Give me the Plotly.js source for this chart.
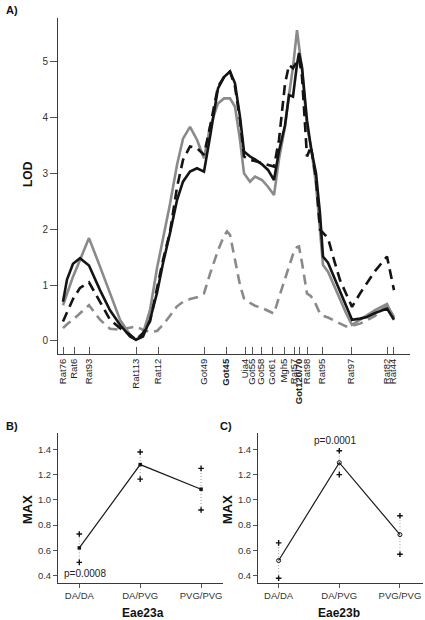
<!DOCTYPE html>
<html>
<head>
<meta charset="utf-8">
<script src="https://cdn.plot.ly/plotly-3.0.1.min.js"></script>
<style>
  html, body { margin: 0; padding: 0; background: #fff; }
  #chart { width: 425px; height: 620px; }
</style>
</head>
<body>
<div id="chart"></div>
<script>
// ---------- Panel A data: LOD profiles along the chromosome ----------
const markerNames = ["Rat76","Rat6","Rat93","Rat113","Rat12","Got49","<b>Got45</b>","Uia4","Got55","Got58","Got61","Mgh5","Rat57","<b>Got120/70</b>","Rat98","Rat95","Rat97","Rat82","Rat44"];
const markerPos   = [5, 16, 31, 78, 100, 146, 168, 187, 194, 203, 214, 226, 236, 241, 249, 264, 293, 329, 335];

const lodPos = [5, 9, 15, 22, 31, 42, 52, 62, 72, 78, 85, 92, 99, 105, 112, 119, 125, 132, 139, 146, 152, 160, 166, 169, 172, 177, 182, 186, 192, 197, 204, 210, 216, 221, 227, 231, 235, 239, 241, 244, 249, 253, 258, 262, 265, 270, 276, 282, 288, 294, 302, 309, 317, 329, 336];

const lodSolidBlack = [0.70, 1.10, 1.38, 1.48, 1.35, 0.91, 0.55, 0.29, 0.08, 0.02, 0.08, 0.38, 0.86, 1.39, 1.93, 2.52, 2.85, 3.03, 3.09, 3.03, 3.65, 4.52, 4.72, 4.78, 4.82, 4.61, 4.01, 3.39, 3.30, 3.25, 3.16, 3.06, 2.88, 3.40, 3.86, 4.40, 4.37, 4.95, 5.15, 4.90, 3.95, 3.45, 3.00, 2.28, 1.51, 1.40, 1.15, 0.91, 0.65, 0.38, 0.40, 0.43, 0.50, 0.58, 0.38];
const lodSolidGray  = [0.64, 0.85, 1.15, 1.45, 1.84, 1.33, 0.86, 0.38, 0.11, 0.02, 0.14, 0.55, 1.30, 1.81, 2.45, 3.15, 3.62, 3.83, 3.60, 3.27, 3.83, 4.25, 4.34, 4.34, 4.34, 4.19, 3.60, 3.00, 2.85, 2.94, 2.88, 2.76, 2.61, 3.25, 3.83, 4.40, 4.90, 5.56, 5.30, 4.85, 3.83, 3.48, 2.80, 1.93, 1.36, 1.24, 1.00, 0.73, 0.50, 0.29, 0.38, 0.47, 0.55, 0.66, 0.41];
const lodDashBlack  = [0.35, 0.50, 0.75, 0.95, 1.05, 0.70, 0.38, 0.23, 0.11, 0.02, 0.14, 0.35, 0.95, 1.45, 1.95, 2.75, 3.24, 3.48, 3.45, 3.33, 3.83, 4.55, 4.72, 4.78, 4.82, 4.55, 3.95, 3.30, 3.24, 3.22, 3.18, 3.15, 3.12, 3.60, 4.60, 4.94, 4.88, 5.00, 5.06, 4.73, 3.30, 3.48, 2.90, 1.99, 1.93, 1.84, 1.45, 1.09, 0.85, 0.61, 0.85, 1.03, 1.25, 1.51, 0.91];
const lodDashGray   = [0.23, 0.30, 0.38, 0.50, 0.64, 0.38, 0.22, 0.20, 0.23, 0.26, 0.20, 0.16, 0.18, 0.29, 0.45, 0.62, 0.70, 0.75, 0.78, 0.85, 1.20, 1.62, 1.88, 1.96, 1.90, 1.45, 1.00, 0.76, 0.68, 0.63, 0.59, 0.54, 0.49, 0.78, 1.10, 1.35, 1.55, 1.68, 1.69, 1.40, 0.85, 0.80, 0.65, 0.49, 0.45, 0.42, 0.37, 0.32, 0.26, 0.27, 0.31, 0.37, 0.45, 0.64, 0.43];

const lodTicks = [0, 1, 2, 3, 4, 5];

// ---------- Panels B and C: genotype means ----------
const genotypes = ["DA/DA", "DA/PVG", "PVG/PVG"];
const eae23aMean  = [0.62, 1.28, 1.085];
const eae23aUpper = [0.73, 1.38, 1.25];
const eae23aLower = [0.505, 1.165, 0.92];
const eae23bMean  = [0.52, 1.295, 0.725];
const eae23bUpper = [0.66, 1.39, 0.875];
const eae23bLower = [0.38, 1.20, 0.57];
const maxTicks = [0.4, 0.6, 0.8, 1.0, 1.2, 1.4];

// ---------- build ----------
const FONT = "Liberation Sans, Arial, sans-serif";
const BLACK = "#141414", GRAY = "#8a8a8a";
const traces = [];

function lod(y, color, dash) {
  traces.push({
    x: lodPos, y: y, xaxis: "x", yaxis: "y", type: "scatter", mode: "lines",
    line: { color: color, width: 2.6, dash: dash, shape: "linear" },
    hoverinfo: "skip", showlegend: false
  });
}
lod(lodDashGray, GRAY, "10px,6px");
lod(lodSolidGray, GRAY, "solid");
lod(lodDashBlack, BLACK, "10px,6px");
lod(lodSolidBlack, BLACK, "solid");

function genoPanel(mean, up, lo, xa, ya, meanSymbol) {
  genotypes.forEach((g, i) => {
    traces.push({
      x: [g, g], y: [lo[i], up[i]], xaxis: xa, yaxis: ya, type: "scatter",
      mode: "lines", line: { color: "#9a9a9a", width: 1, dash: "1px,2px" },
      hoverinfo: "skip", showlegend: false
    });
    traces.push({
      x: [g, g], y: [lo[i], up[i]], xaxis: xa, yaxis: ya, type: "scatter",
      mode: "markers",
      marker: { symbol: "cross-thin", size: 4, color: "#111", line: { color: "#111", width: 1.4 } },
      hoverinfo: "skip", showlegend: false
    });
  });
  traces.push({
    x: genotypes, y: mean, xaxis: xa, yaxis: ya, type: "scatter", mode: "lines+markers",
    line: { color: "#1a1a1a", width: 1.2 },
    marker: meanSymbol === "open"
      ? { symbol: "circle-open", size: 4, color: "#111", line: { width: 1, color: "#111" } }
      : { symbol: "square", size: 3.5, color: "#111" },
    hoverinfo: "skip", showlegend: false
  });
}
genoPanel(eae23aMean, eae23aUpper, eae23aLower, "x2", "y2", "filled");
genoPanel(eae23bMean, eae23bUpper, eae23bLower, "x3", "y3", "open");

const W = 425, H = 620;
const px = v => v / W, py = v => 1 - v / H;

const axLine = { showline: true, linecolor: "#3a3a3a", linewidth: 1, showgrid: false, zeroline: false, mirror: false };
const tickFont = { family: FONT, size: 9.5, color: "#333" };

function note(text, x, y, size, extra) {
  return Object.assign({
    text: text, x: px(x), y: py(y), xref: "paper", yref: "paper",
    xanchor: "center", yanchor: "middle", showarrow: false,
    font: { family: FONT, size: size, color: "#111" }
  }, extra || {});
}

const layout = {
  width: W, height: H,
  margin: { l: 0, r: 0, t: 0, b: 0 },
  paper_bgcolor: "#fff", plot_bgcolor: "rgba(0,0,0,0)",
  font: { family: FONT, color: "#222" },
  showlegend: false,
  xaxis: Object.assign({}, axLine, {
    domain: [px(58), px(410)], range: [0, 352], anchor: "y",
    tickmode: "array", tickvals: markerPos, ticktext: markerNames,
    ticks: "inside", ticklen: 7, tickcolor: "#555", tickwidth: 1,
    tickangle: -90, tickfont: { family: FONT, size: 9.5, color: "#222" }
  }),
  yaxis: Object.assign({}, axLine, {
    domain: [py(354), py(18)], range: [-0.233, 5.778], anchor: "x",
    tickmode: "array", tickvals: lodTicks,
    ticks: "outside", ticklen: 7, tickcolor: "#555", tickwidth: 1,
    tickfont: { family: FONT, size: 10, color: "#333" }
  }),
  xaxis2: Object.assign({}, axLine, {
    domain: [px(58), px(223)], range: [-0.35, 2.36], anchor: "y2",
    type: "category", categoryarray: genotypes,
    ticks: "outside", ticklen: 4, tickcolor: "#555", tickfont: tickFont
  }),
  yaxis2: Object.assign({}, axLine, {
    domain: [py(583), py(433)], range: [0.342, 1.53], anchor: "x2",
    tickmode: "array", tickvals: maxTicks, tickformat: ".1f",
    ticks: "outside", ticklen: 4, tickcolor: "#555", tickfont: tickFont
  }),
  xaxis3: Object.assign({}, axLine, {
    domain: [px(258), px(423)], range: [-0.34, 2.38], anchor: "y3",
    type: "category", categoryarray: genotypes,
    ticks: "outside", ticklen: 4, tickcolor: "#555", tickfont: tickFont
  }),
  yaxis3: Object.assign({}, axLine, {
    domain: [py(583), py(433)], range: [0.342, 1.53], anchor: "x3",
    tickmode: "array", tickvals: maxTicks, tickformat: ".1f",
    ticks: "outside", ticklen: 4, tickcolor: "#555", tickfont: tickFont
  }),
  annotations: [
    note("<b>A)</b>", 4, 10, 11, { xanchor: "left" }),
    note("<b>B)</b>", 4, 426, 11, { xanchor: "left" }),
    note("<b>C)</b>", 218, 426, 11, { xanchor: "left" }),
    note("<b>LOD</b>", 28, 174, 12, { textangle: -90 }),
    note("<b>MAX</b>", 27, 509, 13, { textangle: -90 }),
    note("<b>MAX</b>", 227, 509, 13, { textangle: -90 }),
    note("<b>Eae23a</b>", 143, 613, 12),
    note("<b>Eae23b</b>", 339, 613, 12),
    note("p=0.0008", 62, 573, 10, { xanchor: "left", font: { family: FONT, size: 10, color: "#222" } }),
    note("p=0.0001", 335, 440, 10, { font: { family: FONT, size: 10, color: "#222" } })
  ]
};

Plotly.newPlot("chart", traces, layout, { displayModeBar: false, staticPlot: true });
</script>
</body>
</html>
